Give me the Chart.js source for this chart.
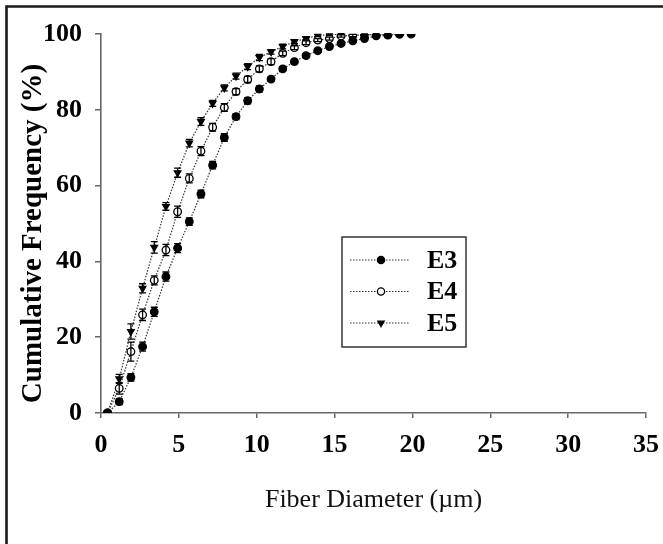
<!DOCTYPE html>
<html>
<head>
<meta charset="utf-8">
<script src="https://cdn.jsdelivr.net/npm/chart.js@4.4.1/dist/chart.umd.min.js"></script>
<style>
html,body{margin:0;padding:0;background:#fff;}
#wrap{width:663px;height:544px;position:relative;}
</style>
</head>
<body>
<div id="wrap"><canvas id="c" width="663" height="544"></canvas></div>
<script>
// ---- data ----
const seriesNames = ["E3", "E4", "E5"];
const xE3 = [0.42,1.17,1.92,2.67,3.42,4.17,4.92,5.67,6.42,7.17,7.92,8.67,9.42,10.17,10.92,11.67,12.42,13.17,13.92,14.67,15.42,16.17,16.92,17.67,18.42,19.17,19.92];
const yE3 = [0,3,9.4,17.5,26.7,36,43.5,50.5,57.8,65.4,72.7,78.2,82.4,85.5,88.1,90.8,92.7,94.3,95.6,96.7,97.5,98.2,98.8,99.5,99.7,100,100];
const eE3 = [0,0.8,1,1.2,1.2,1.2,1.2,1,1,1,1,0.8,0.8,0.8,0.6,0.6,0.5,0.5,0.4,0.4,0.3,0.3,0.3,0.2,0.2,0,0];
const xE4 = [0.42,1.17,1.92,2.67,3.42,4.17,4.92,5.67,6.42,7.17,7.92,8.67,9.42,10.17,10.92,11.67,12.42,13.17,13.92,14.67,15.42,16.17,16.92,17.67,18.42,19.17];
const yE4 = [0,6.5,16.2,25.9,35,43,53.1,61.9,69.1,75.4,80.6,84.8,88,90.8,92.7,94.9,96.4,97.7,98.4,98.8,99.5,99.6,99.8,99.9,100,100];
const eE4 = [0,1.5,2.5,1.5,1.2,1.5,1.5,1.2,1.2,1,1,0.8,0.8,0.8,0.8,0.6,0.5,0.5,0.4,0.4,0.3,0.3,0.2,0.2,0.1,0];
const xE5 = [0.42,1.17,1.92,2.67,3.42,4.17,4.92,5.67,6.42,7.17,7.92,8.67,9.42,10.17,10.92,11.67,12.42,13.17,13.92,14.67,15.42];
const yE5 = [0,9,21.5,32.9,43.7,54.5,63.4,71.2,76.9,81.7,85.8,88.9,91.4,93.8,95.3,96.7,98,98.8,99.6,99.8,100];
const eE5 = [0,1.2,2,1.2,1.5,1,1.2,1,1,0.8,0.8,0.8,0.8,0.8,0.6,0.6,0.5,0.4,0.3,0.2,0.1];
const xTicks = [0,5,10,15,20,25,30,35];
const yTicks = [0,20,40,60,80,100];
const xTitle = "Fiber Diameter (\u00b5m)";
const yTitle = "Cumulative Frequency (%)";

const pts = (xs, ys) => xs.map((x, i) => ({x: x, y: ys[i]}));
const errs = [eE3, eE4, eE5];

const lineCol = '#333';
function ds(label, xs, ys, style, fill, rot) {
  return {
    label: label,
    data: pts(xs, ys),
    borderColor: lineCol,
    borderWidth: 1.2,
    borderDash: [1.5, 1.5],
    pointStyle: style,
    pointRotation: rot || 0,
    pointRadius: 3.8,
    pointBorderWidth: 1.3,
    pointBorderColor: '#000',
    pointBackgroundColor: fill,
    tension: 0,
    fill: false
  };
}

const framePlugin = {
  id: 'frame',
  beforeDraw(chart) {
    const ctx = chart.ctx;
    ctx.save();
    ctx.fillStyle = '#fff';
    ctx.fillRect(0, 0, chart.width, chart.height);
    ctx.strokeStyle = '#1a1a1a';
    ctx.lineWidth = 2.6;
    ctx.beginPath();
    ctx.moveTo(6.5, chart.height);
    ctx.lineTo(6.5, 6.5);
    ctx.lineTo(chart.width, 6.5);
    ctx.stroke();
    ctx.restore();
  }
};

const errPlugin = {
  id: 'errbars',
  afterDatasetsDraw(chart) {
    const ctx = chart.ctx;
    const ys = chart.scales.y;
    ctx.save();
    ctx.strokeStyle = '#000';
    ctx.lineWidth = 1.3;
    chart.data.datasets.forEach((d, di) => {
      const meta = chart.getDatasetMeta(di);
      const e = errs[di];
      meta.data.forEach((p, i) => {
        if (!e[i]) return;
        const v = d.data[i].y;
        const y1 = ys.getPixelForValue(v + e[i]);
        const y2 = ys.getPixelForValue(v - e[i]);
        ctx.beginPath();
        ctx.moveTo(p.x, y1); ctx.lineTo(p.x, y2);
        ctx.moveTo(p.x - 3.5, y1); ctx.lineTo(p.x + 3.5, y1);
        ctx.moveTo(p.x - 3.5, y2); ctx.lineTo(p.x + 3.5, y2);
        ctx.stroke();
      });
    });
    ctx.restore();
  }
};

const legendPlugin = {
  id: 'boxlegend',
  afterDraw(chart) {
    const ctx = chart.ctx;
    const bx = 342, by = 237, bw = 124, bh = 110;
    ctx.save();
    ctx.strokeStyle = '#333';
    ctx.lineWidth = 1.5;
    ctx.strokeRect(bx, by, bw, bh);
    chart.data.datasets.forEach((d, i) => {
      const y = by + 23 + i * 31.5;
      ctx.strokeStyle = lineCol;
      ctx.lineWidth = 1.2;
      ctx.setLineDash([1.5, 1.5]);
      ctx.beginPath();
      ctx.moveTo(bx + 8, y); ctx.lineTo(bx + 68, y);
      ctx.stroke();
      ctx.setLineDash([]);
      ctx.fillStyle = d.pointBackgroundColor;
      ctx.strokeStyle = '#000';
      ctx.lineWidth = 1.3;
      Chart.helpers.drawPoint(ctx, {pointStyle: d.pointStyle, rotation: d.pointRotation, radius: 3.6, borderWidth: 1.3}, bx + 39, y);
      ctx.fillStyle = '#000';
      ctx.font = 'bold 26px "Liberation Serif", "Times New Roman", serif';
      ctx.textBaseline = 'middle';
      ctx.textAlign = 'left';
      ctx.fillText(d.label, bx + 85, y + 1);
    });
    ctx.restore();
  }
};

const tickFont = {family: '"Liberation Serif", "Times New Roman", serif', size: 26, weight: 'bold'};

new Chart(document.getElementById('c'), {
  type: 'line',
  data: {
    datasets: [
      ds(seriesNames[0], xE3, yE3, 'circle', '#000'),
      ds(seriesNames[1], xE4, yE4, 'circle', '#fff'),
      ds(seriesNames[2], xE5, yE5, 'triangle', '#000', 180)
    ]
  },
  options: {
    responsive: false,
    animation: false,
    devicePixelRatio: 1,
    layout: {padding: {left: 0, top: 34, right: 17, bottom: 0}},
    plugins: {legend: {display: false}, tooltip: {enabled: false}},
    scales: {
      x: {
        type: 'linear', min: 0, max: 35,
        afterBuildTicks(s) { s.ticks = xTicks.map(v => ({value: v})); },
        afterFit(s) { s.height = 131; s.paddingRight = 0; s.paddingLeft = 0; },
        ticks: {font: tickFont, color: '#000', padding: 12, maxRotation: 0, callback: v => String(v)},
        grid: {drawOnChartArea: false, drawTicks: true, tickLength: 5, color: '#666', lineWidth: 1.5},
        border: {display: true, color: '#666', width: 1.6},
        title: {display: true, text: xTitle, color: '#111', padding: {top: 0, bottom: 28},
                font: {family: '"Liberation Serif", "Times New Roman", serif', size: 26, weight: 'normal'}}
      },
      y: {
        type: 'linear', min: 0, max: 100,
        afterBuildTicks(s) { s.ticks = yTicks.map(v => ({value: v})); },
        afterFit(s) {
          s.width = 101;
          if (!s._titleShifted) {
            const orig = s.drawTitle;
            s.drawTitle = function () {
              this.ctx.save();
              this.ctx.translate(0, 10);
              orig.call(this);
              this.ctx.restore();
            };
            s._titleShifted = true;
          }
        },
        ticks: {font: tickFont, color: '#000', padding: 13, callback: v => String(v)},
        grid: {drawOnChartArea: false, drawTicks: true, tickLength: 6, color: '#666', lineWidth: 1.5},
        border: {display: true, color: '#666', width: 1.6},
        title: {display: true, text: yTitle, color: '#000', padding: {top: 16, bottom: 0},
                font: {family: '"Liberation Serif", "Times New Roman", serif', size: 29, weight: 'bold'}}
      }
    }
  },
  plugins: [framePlugin, errPlugin, legendPlugin]
});
</script>
</body>
</html>
